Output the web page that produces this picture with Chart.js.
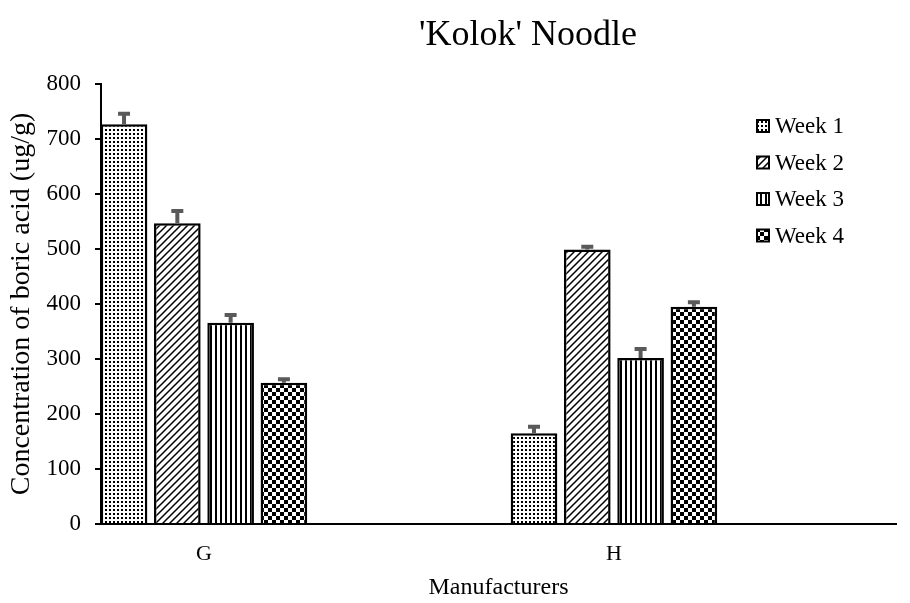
<!DOCTYPE html>
<html>
<head>
<meta charset="utf-8">
<script src="https://cdn.jsdelivr.net/npm/chart.js@4.4.1/dist/chart.umd.min.js"></script>
<style>
    body { margin: 0; background: #fff; }
    #wrap { width: 910px; height: 603px; }
</style>
</head>
<body>
<div id="wrap"><canvas id="myChart" width="910" height="603"></canvas></div>
<script>
const chartTitle = "'Kolok' Noodle";
const categories = ['G', 'H'];
const seriesLabels = ['Week 1', 'Week 2', 'Week 3', 'Week 4'];
const week1 = [727, 165];
const week2 = [547, 499];
const week3 = [366, 302];
const week4 = [257, 395];
const week1Err = [19, 12];
const week2Err = [22, 5];
const week3Err = [14, 16];
const week4Err = [6, 8];
const yTicks = [0, 100, 200, 300, 400, 500, 600, 700, 800];

const serif = "'Liberation Serif', 'Times New Roman', serif";
Chart.defaults.font.family = serif;
Chart.defaults.color = '#000';

// fill patterns, one per week
function makePattern(size, draw) {
    const c = document.createElement('canvas');
    c.width = size;
    c.height = size;
    const g = c.getContext('2d');
    g.fillStyle = '#fff';
    g.fillRect(0, 0, size, size);
    g.fillStyle = '#000';
    g.strokeStyle = '#000';
    draw(g, size);
    return document.getElementById('myChart').getContext('2d').createPattern(c, 'repeat');
}

const patDots = makePattern(4, function (g) {
    g.fillRect(1, 1, 2, 2);
});
const patDiag = makePattern(7, function (g, s) {
    g.lineWidth = 1.5;
    g.beginPath();
    g.moveTo(-2, s + 2); g.lineTo(s + 2, -2);
    g.moveTo(-2, 2); g.lineTo(2, -2);
    g.moveTo(s - 2, s + 2); g.lineTo(s + 2, s - 2);
    g.stroke();
});
const patVert = makePattern(5, function (g, s) {
    g.fillRect(0, 0, 2, s);
});
const patCheck = makePattern(8, function (g) {
    g.fillRect(0, 0, 4, 4);
    g.fillRect(4, 4, 4, 4);
});

const fills = [patDots, patDiag, patVert, patCheck];
const seriesData = [week1, week2, week3, week4];
const seriesErr = [week1Err, week2Err, week3Err, week4Err];

const errorBars = {
    id: 'errorBars',
    afterDatasetsDraw(chart) {
        const c = chart.ctx;
        const y = chart.scales.y;
        c.save();
        c.strokeStyle = '#5a5a5a';
        c.lineWidth = 4;
        chart.data.datasets.forEach(function (ds, i) {
            const meta = chart.getDatasetMeta(i);
            meta.data.forEach(function (bar, j) {
                const top = y.getPixelForValue(seriesData[i][j] + seriesErr[i][j]);
                c.beginPath();
                c.moveTo(bar.x, bar.y);
                c.lineTo(bar.x, top);
                c.moveTo(bar.x - 6, top);
                c.lineTo(bar.x + 6, top);
                c.stroke();
            });
        });
        c.restore();
    }
};

const titleAndLegend = {
    id: 'titleAndLegend',
    afterDraw(chart) {
        const c = chart.ctx;
        c.save();
        c.fillStyle = '#000';
        c.textAlign = 'center';
        c.textBaseline = 'middle';
        c.font = '36px ' + serif;
        c.fillText(chartTitle, 528, 36);

        c.font = '23px ' + serif;
        c.textAlign = 'left';
        seriesLabels.forEach(function (lab, i) {
            const cy = 126 + i * 36.5;
            c.fillStyle = fills[i];
            c.fillRect(757, cy - 6, 12, 12);
            c.strokeStyle = '#000';
            c.lineWidth = 2;
            c.strokeRect(757, cy - 6, 12, 12);
            c.fillStyle = '#000';
            c.fillText(lab, 775, cy + 1);
        });
        c.restore();
    }
};

const ctx = document.getElementById('myChart');
new Chart(ctx, {
    type: 'bar',
    data: {
        datasets: seriesLabels.map(function (lab, i) {
            return {
                label: lab,
                data: seriesData[i].map(function (v, j) { return { x: j, y: v }; }),
                backgroundColor: fills[i],
                borderColor: '#000',
                borderWidth: 2.5,
                categoryPercentage: 0.52,
                barPercentage: 0.875,
            };
        })
    },
    options: {
        responsive: false,
        animation: false,
        layout: {
            padding: { top: 84, right: 14, bottom: 0, left: 0 }
        },
        plugins: {
            legend: { display: false },
            title: { display: false },
            tooltip: { enabled: false }
        },
        scales: {
            x: {
                type: 'linear',
                offset: false,
                min: -0.2512,
                max: 1.688,
                afterBuildTicks: function (scale) {
                    scale.ticks = categories.map(function (c, i) { return { value: i }; });
                },
                afterFit: function (scale) {
                    scale.height = 79;
                },
                grid: { display: false, drawTicks: false },
                border: { display: true, color: '#000', width: 2 },
                ticks: {
                    padding: 17,
                    font: { size: 22 },
                    color: '#000',
                    maxRotation: 0,
                    callback: function (value) {
                        return categories[value];
                    }
                },
                title: {
                    display: true,
                    text: 'Manufacturers',
                    font: { size: 24 },
                    color: '#000',
                    padding: { top: 0, bottom: 1 }
                }
            },
            y: {
                min: 0,
                max: 800,
                afterFit: function (scale) {
                    scale.width = 101;
                },
                afterBuildTicks: function (scale) {
                    scale.ticks = yTicks.map(function (v) { return { value: v }; });
                },
                grid: {
                    drawOnChartArea: false,
                    drawTicks: true,
                    tickLength: 6,
                    color: '#000',
                    lineWidth: 2
                },
                border: { display: true, color: '#000', width: 2 },
                ticks: {
                    padding: 14,
                    font: { size: 23 },
                    color: '#000'
                },
                title: {
                    display: true,
                    text: 'Concentration of boric acid (ug/g)',
                    font: { size: 28 },
                    color: '#000',
                    padding: { top: 5, bottom: 0 }
                }
            }
        }
    },
    plugins: [errorBars, titleAndLegend]
});
</script>
</body>
</html>
